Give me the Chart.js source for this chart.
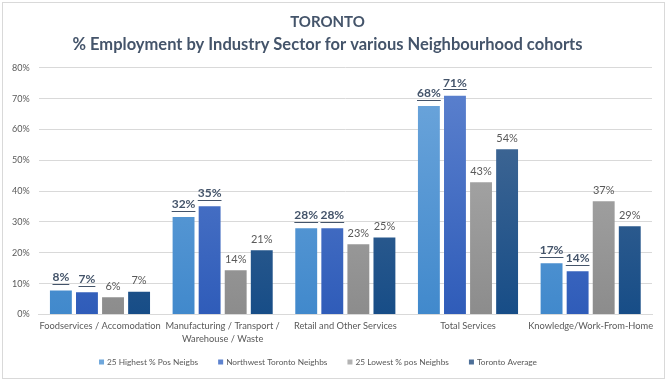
<!DOCTYPE html>
<html>
<head>
<meta charset="utf-8">
<script src="https://cdn.jsdelivr.net/npm/chart.js@4.4.1/dist/chart.umd.min.js"></script>
<style>
  html, body { margin: 0; padding: 0; background: #fff; }
  #wrap { width: 667px; height: 382px; position: relative; }
</style>
</head>
<body>
<div id="wrap"><canvas id="sectorChart"></canvas></div>
<script>
const sectors = [
  "Foodservices / Accomodation",
  ["Manufacturing / Transport /", "Warehouse / Waste"],
  "Retail and Other Services",
  "Total Services",
  "Knowledge/Work-From-Home"
];
const seriesNames = ["25 Highest % Pos Neigbs", "Northwest Toronto Neighbs", "25 Lowest % pos Neighbs", "Toronto Average"];
const highestPos = [7.8, 31.6, 28.0, 67.6, 16.6];
const northwest = [7.2, 35.1, 28.0, 70.9, 14.0];
const lowestPos = [5.6, 14.3, 22.8, 42.9, 36.7];
const torontoAvg = [7.4, 20.8, 25.0, 53.6, 28.6];
const yTicks = [0, 10, 20, 30, 40, 50, 60, 70, 80];

const fontFamily = "Lato, 'Open Sans', sans-serif";
const textColor = "#595959";
const titleColor = "#44546a";

// top / bottom colours for each series gradient
const gradStops = [
  ["#6fa7dc", "#4189cc"],
  ["#5e83cf", "#2f5cb9"],
  ["#b3b3b3", "#8c8c8c"],
  ["#4d6f98", "#174d87"]
];

function barGradient(index) {
  return (context) => {
    const { chart } = context;
    const area = chart.chartArea;
    if (!area) return gradStops[index][1];
    const g = chart.ctx.createLinearGradient(0, area.top, 0, area.bottom);
    g.addColorStop(0, gradStops[index][0]);
    g.addColorStop(1, gradStops[index][1]);
    return g;
  };
}

const valueLabels = {
  id: "valueLabels",
  afterDatasetsDraw(chart) {
    const ctx = chart.ctx;
    ctx.save();
    ctx.textAlign = "center";
    ctx.textBaseline = "alphabetic";
    chart.data.datasets.forEach((dataset, di) => {
      const meta = chart.getDatasetMeta(di);
      const strong = di < 2;
      ctx.font = strong ? `bold 12px ${fontFamily}` : `11px ${fontFamily}`;
      ctx.fillStyle = strong ? titleColor : textColor;
      ctx.strokeStyle = titleColor;
      ctx.lineWidth = 1;
      meta.data.forEach((bar, i) => {
        const text = Math.round(dataset.data[i]) + "%";
        const y = strong ? bar.y - 9 : bar.y - 7.5;
        ctx.fillText(text, bar.x, y);
        if (strong) {
          const w = ctx.measureText(text).width;
          const uy = Math.round(bar.y - 6.5) + 0.5;
          ctx.beginPath();
          ctx.moveTo(bar.x - w / 2, uy);
          ctx.lineTo(bar.x + w / 2, uy);
          ctx.stroke();
        }
      });
    });
    ctx.restore();
  }
};

// legend row drawn by hand so horizontal gaps and vertical spot can differ
const bottomLegend = {
  id: "bottomLegend",
  afterDraw(chart) {
    const ctx = chart.ctx;
    ctx.save();
    ctx.font = `8.3px ${fontFamily}`;
    ctx.textBaseline = "middle";
    ctx.textAlign = "left";
    const box = 5, textGap = 3, itemGap = 20;
    const widths = seriesNames.map((name) => box + textGap + ctx.measureText(name).width);
    const total = widths.reduce((a, b) => a + b, 0) + itemGap * (widths.length - 1);
    let x = 318 - total / 2;
    const y = 362;
    seriesNames.forEach((name, i) => {
      ctx.fillStyle = gradStops[i][0];
      ctx.fillRect(x, y - box / 2, box, box);
      ctx.fillStyle = textColor;
      ctx.fillText(name, x + box + textGap, y);
      x += widths[i] + itemGap;
    });
    ctx.restore();
  }
};

const frameBorder = {
  id: "frameBorder",
  afterDraw(chart) {
    const ctx = chart.ctx;
    ctx.save();
    ctx.strokeStyle = "#d9d9d9";
    ctx.lineWidth = 1;
    ctx.strokeRect(2.5, 2.5, chart.width - 5, chart.height - 6);
    ctx.restore();
  }
};

const datasets = [highestPos, northwest, lowestPos, torontoAvg].map((values, index) => ({
  label: seriesNames[index],
  data: values,
  backgroundColor: barGradient(index),
  borderWidth: 0,
  categoryPercentage: 0.85,
  barPercentage: 0.84
}));

new Chart(document.getElementById("sectorChart").getContext("2d"), {
  type: "bar",
  data: { labels: sectors, datasets },
  options: {
    responsive: true,
    maintainAspectRatio: false,
    animation: false,
    layout: { padding: { left: 3, right: 15, top: 4, bottom: 30.5 } },
    plugins: {
      title: {
        display: true,
        text: "TORONTO",
        color: titleColor,
        font: { family: fontFamily, size: 15, weight: "bold", lineHeight: 1.2 },
        padding: { top: 9, bottom: 4 }
      },
      subtitle: {
        display: true,
        text: "% Employment by Industry Sector for various Neighbourhood cohorts",
        color: titleColor,
        font: { family: fontFamily, size: 16.5, weight: "bold", lineHeight: 1.2 },
        padding: { top: 0, bottom: 13 }
      },
      legend: { display: false },
      tooltip: { enabled: false }
    },
    scales: {
      x: {
        grid: { display: false, drawTicks: false },
        border: { color: "#d9d9d9" },
        ticks: {
          color: textColor,
          font: { family: fontFamily, size: 9.3, lineHeight: 1.4 },
          maxRotation: 0,
          autoSkip: false,
          padding: 5.5
        }
      },
      y: {
        min: 0,
        max: 80,
        afterBuildTicks: (axis) => {
          axis.ticks = yTicks.map((value) => ({ value }));
        },
        grid: { color: "#d9d9d9", drawTicks: false },
        border: { display: false },
        ticks: {
          color: textColor,
          font: { family: fontFamily, size: 9 },
          padding: 9,
          callback: (value) => value + "%"
        }
      }
    }
  },
  plugins: [valueLabels, bottomLegend, frameBorder]
});
</script>
</body>
</html>
